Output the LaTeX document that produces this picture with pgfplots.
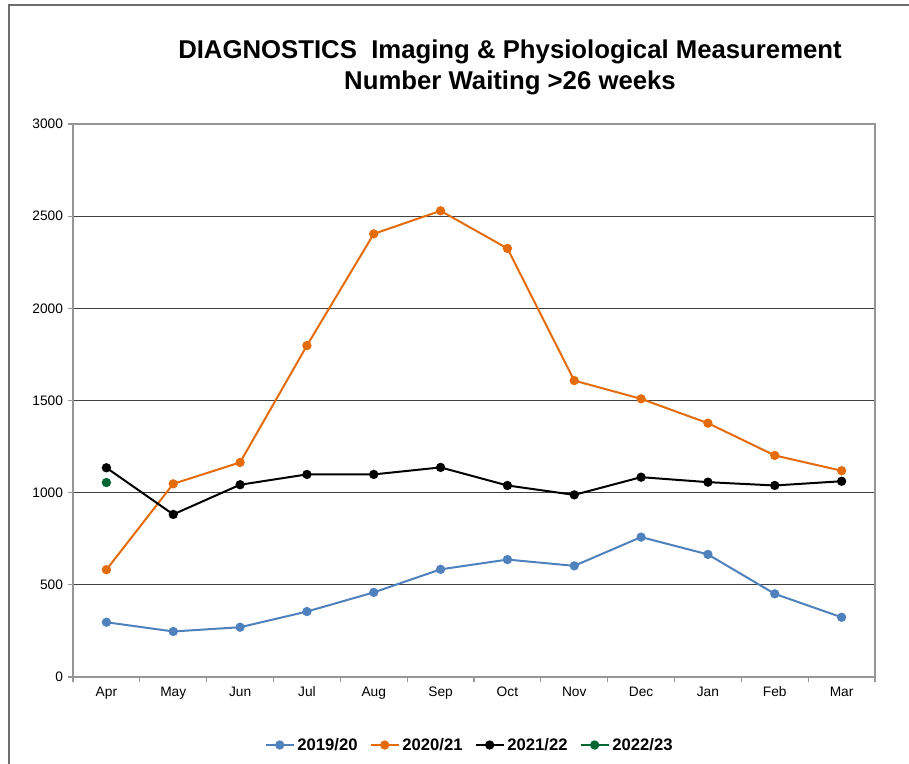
\documentclass[border=0pt]{standalone}
\usepackage{pgfplots}
\pgfplotsset{compat=1.18}
\usepackage{fontspec}
\setmainfont{Liberation Sans}
\definecolor{c1}{RGB}{79,129,189}
\definecolor{c2}{RGB}{228,108,10}
\definecolor{c3}{RGB}{0,0,0}
\definecolor{c4}{RGB}{0,102,51}
\definecolor{axgray}{RGB}{150,150,150}
\definecolor{framegray}{RGB}{110,110,110}
\definecolor{gridc}{RGB}{64,64,64}
\begin{document}
\begin{tikzpicture}[x=0.75pt,y=0.75pt]
\path[use as bounding box] (0,0) rectangle (909,763);
\draw[framegray, line width=1.5pt] (9,-10) -- (9,758) -- (930,758);
\node[font=\bfseries\fontsize{19.3}{22}\selectfont] at (510,711) {DIAGNOSTICS\ \ Imaging \& Physiological Measurement};
\node[font=\bfseries\fontsize{19.3}{22}\selectfont] at (510,680) {Number Waiting >26 weeks};
\begin{axis}[
  at={(54.75pt,64.5pt)}, anchor=south west,
  scale only axis, width=601.5pt, height=414.75pt,
  xmin=-0.5, xmax=11.5, ymin=0, ymax=3000,
  xtick={0,...,11},
  xticklabels={Apr,May,Jun,Jul,Aug,Sep,Oct,Nov,Dec,Jan,Feb,Mar},
  minor xtick={-0.5,0.5,...,11.5},
  ytick={0,500,...,3000},
  tick pos=left, tick align=outside,
  major x tick style={draw=none},
  minor x tick style={axgray, line width=0.8pt},
  major y tick style={axgray, line width=0.8pt},
  major tick length=4pt, minor tick length=4pt,
  ymajorgrids, major grid style={gridc, line width=0.8pt},
  axis line style={axgray, line width=1pt},
  ticklabel style={font=\fontsize{10.3}{12}\selectfont},
  /pgf/number format/assume math mode=true,
  /pgf/number format/1000 sep={},
  legend columns=4,
  legend style={at={(0.495,-0.123)}, anchor=center, draw=none, fill=none,
    font=\bfseries\fontsize{12.5}{14}\selectfont,
    /tikz/every even column/.append style={column sep=7pt}},
  legend image code/.code={\draw[mark repeat=2,mark phase=2] plot coordinates {(0cm,0cm)(0.37cm,0cm)(0.74cm,0cm)};},
  every axis plot/.append style={line width=1.5pt, mark=*, mark size=2.7pt},
]
\addplot[c1, mark options={fill=c1}] coordinates {(0,297)(1,247)(2,270)(3,355)(4,459)(5,584)(6,637)(7,603)(8,759)(9,665)(10,451)(11,324)};
\addlegendentry{2019/20}
\addplot[c2, mark options={fill=c2}] coordinates {(0,582)(1,1048)(2,1164)(3,1798)(4,2404)(5,2529)(6,2325)(7,1608)(8,1509)(9,1377)(10,1202)(11,1119)};
\addlegendentry{2020/21}
\addplot[c3, mark options={fill=c3}] coordinates {(0,1135)(1,882)(2,1043)(3,1099)(4,1099)(5,1137)(6,1039)(7,988)(8,1084)(9,1057)(10,1039)(11,1062)};
\addlegendentry{2021/22}
\addplot[c4, mark options={fill=c4}] coordinates {(0,1055)};
\addlegendentry{2022/23}
\end{axis}
\end{tikzpicture}
\end{document}
